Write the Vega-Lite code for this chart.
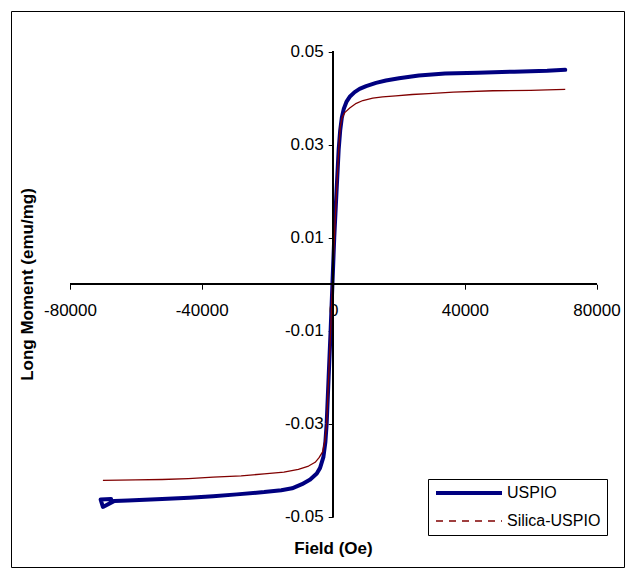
{
  "$schema": "https://vega.github.io/schema/vega-lite/v6.json",
  "width": 613,
  "height": 556,
  "autosize": {"type": "none"},
  "padding": {"left": 11, "top": 11, "right": 4, "bottom": 2},
  "background": "white",
  "config": {
    "view": {"stroke": "black", "strokeWidth": 1},
    "axis": {
      "labelFont": "Liberation Sans", "labelFontSize": 17, "labelColor": "black",
      "titleFont": "Liberation Sans", "titleFontSize": 17, "titleFontWeight": "bold", "titleColor": "black",
      "tickColor": "black", "tickSize": 5, "tickWidth": 1, "grid": false, "domain": false
    },
    "legend": {"labelFont": "Liberation Sans", "labelFontSize": 16, "labelColor": "black"}
  },
  "data": {
    "values": [
      {"series": "USPIO", "i": 0, "field": -67500, "moment": -0.0462},
      {"series": "USPIO", "i": 1, "field": -70700, "moment": -0.0463},
      {"series": "USPIO", "i": 2, "field": -70000, "moment": -0.0479},
      {"series": "USPIO", "i": 3, "field": -66500, "moment": -0.0466},
      {"series": "USPIO", "i": 4, "field": -62400, "moment": -0.0465},
      {"series": "USPIO", "i": 5, "field": -52000, "moment": -0.0462},
      {"series": "USPIO", "i": 6, "field": -43800, "moment": -0.0459},
      {"series": "USPIO", "i": 7, "field": -36500, "moment": -0.0456},
      {"series": "USPIO", "i": 8, "field": -29300, "moment": -0.0452},
      {"series": "USPIO", "i": 9, "field": -21000, "moment": -0.0447},
      {"series": "USPIO", "i": 10, "field": -15800, "moment": -0.0443},
      {"series": "USPIO", "i": 11, "field": -12500, "moment": -0.0439},
      {"series": "USPIO", "i": 12, "field": -9500, "moment": -0.0430},
      {"series": "USPIO", "i": 13, "field": -7000, "moment": -0.0420},
      {"series": "USPIO", "i": 14, "field": -5000, "moment": -0.0407},
      {"series": "USPIO", "i": 15, "field": -4000, "moment": -0.0395},
      {"series": "USPIO", "i": 16, "field": -3000, "moment": -0.0372},
      {"series": "USPIO", "i": 17, "field": -2400, "moment": -0.0340},
      {"series": "USPIO", "i": 18, "field": -2000, "moment": -0.0300},
      {"series": "USPIO", "i": 19, "field": -1400, "moment": -0.0200},
      {"series": "USPIO", "i": 20, "field": -800, "moment": -0.0100},
      {"series": "USPIO", "i": 21, "field": -250, "moment": 0.0},
      {"series": "USPIO", "i": 22, "field": 300, "moment": 0.0100},
      {"series": "USPIO", "i": 23, "field": 1000, "moment": 0.0200},
      {"series": "USPIO", "i": 24, "field": 1650, "moment": 0.0290},
      {"series": "USPIO", "i": 25, "field": 2100, "moment": 0.0330},
      {"series": "USPIO", "i": 26, "field": 2600, "moment": 0.0358},
      {"series": "USPIO", "i": 27, "field": 3200, "moment": 0.0377},
      {"series": "USPIO", "i": 28, "field": 4000, "moment": 0.0392},
      {"series": "USPIO", "i": 29, "field": 5000, "moment": 0.0403},
      {"series": "USPIO", "i": 30, "field": 6500, "moment": 0.0413},
      {"series": "USPIO", "i": 31, "field": 8000, "moment": 0.0420},
      {"series": "USPIO", "i": 32, "field": 10000, "moment": 0.0426},
      {"series": "USPIO", "i": 33, "field": 13000, "moment": 0.0433},
      {"series": "USPIO", "i": 34, "field": 16000, "moment": 0.0438},
      {"series": "USPIO", "i": 35, "field": 20000, "moment": 0.0443},
      {"series": "USPIO", "i": 36, "field": 26000, "moment": 0.0449},
      {"series": "USPIO", "i": 37, "field": 34000, "moment": 0.0453},
      {"series": "USPIO", "i": 38, "field": 44000, "moment": 0.0455},
      {"series": "USPIO", "i": 39, "field": 55000, "moment": 0.0457},
      {"series": "USPIO", "i": 40, "field": 65000, "moment": 0.0459},
      {"series": "USPIO", "i": 41, "field": 70500, "moment": 0.0461},
      {"series": "Silica-USPIO", "i": 0, "field": -70000, "moment": -0.0422},
      {"series": "Silica-USPIO", "i": 1, "field": -60000, "moment": -0.0421},
      {"series": "Silica-USPIO", "i": 2, "field": -52000, "moment": -0.0420},
      {"series": "Silica-USPIO", "i": 3, "field": -44000, "moment": -0.0418},
      {"series": "Silica-USPIO", "i": 4, "field": -36500, "moment": -0.0415},
      {"series": "Silica-USPIO", "i": 5, "field": -28000, "moment": -0.0412},
      {"series": "Silica-USPIO", "i": 6, "field": -21000, "moment": -0.0408},
      {"series": "Silica-USPIO", "i": 7, "field": -15000, "moment": -0.0404},
      {"series": "Silica-USPIO", "i": 8, "field": -10600, "moment": -0.0398},
      {"series": "Silica-USPIO", "i": 9, "field": -7500, "moment": -0.0391},
      {"series": "Silica-USPIO", "i": 10, "field": -5500, "moment": -0.0383},
      {"series": "Silica-USPIO", "i": 11, "field": -4300, "moment": -0.0373},
      {"series": "Silica-USPIO", "i": 12, "field": -3200, "moment": -0.0360},
      {"series": "Silica-USPIO", "i": 13, "field": -2500, "moment": -0.0335},
      {"series": "Silica-USPIO", "i": 14, "field": -2000, "moment": -0.0300},
      {"series": "Silica-USPIO", "i": 15, "field": -1400, "moment": -0.0200},
      {"series": "Silica-USPIO", "i": 16, "field": -800, "moment": -0.0100},
      {"series": "Silica-USPIO", "i": 17, "field": -250, "moment": 0.0},
      {"series": "Silica-USPIO", "i": 18, "field": 350, "moment": 0.0100},
      {"series": "Silica-USPIO", "i": 19, "field": 1000, "moment": 0.0200},
      {"series": "Silica-USPIO", "i": 20, "field": 1750, "moment": 0.0300},
      {"series": "Silica-USPIO", "i": 21, "field": 2150, "moment": 0.0340},
      {"series": "Silica-USPIO", "i": 22, "field": 2700, "moment": 0.0358},
      {"series": "Silica-USPIO", "i": 23, "field": 3500, "moment": 0.0369},
      {"series": "Silica-USPIO", "i": 24, "field": 5000, "moment": 0.0379},
      {"series": "Silica-USPIO", "i": 25, "field": 7000, "moment": 0.0389},
      {"series": "Silica-USPIO", "i": 26, "field": 9000, "moment": 0.0395},
      {"series": "Silica-USPIO", "i": 27, "field": 12000, "moment": 0.0400},
      {"series": "Silica-USPIO", "i": 28, "field": 15000, "moment": 0.0403},
      {"series": "Silica-USPIO", "i": 29, "field": 19000, "moment": 0.0405},
      {"series": "Silica-USPIO", "i": 30, "field": 24000, "moment": 0.0408},
      {"series": "Silica-USPIO", "i": 31, "field": 29000, "moment": 0.0410},
      {"series": "Silica-USPIO", "i": 32, "field": 36500, "moment": 0.0413},
      {"series": "Silica-USPIO", "i": 33, "field": 48500, "moment": 0.0416},
      {"series": "Silica-USPIO", "i": 34, "field": 60000, "moment": 0.0417},
      {"series": "Silica-USPIO", "i": 35, "field": 65000, "moment": 0.0418},
      {"series": "Silica-USPIO", "i": 36, "field": 70500, "moment": 0.0419}
    ]
  },
  "layer": [
    {
      "transform": [{"filter": "datum.series === 'USPIO'"}],
      "mark": {"type": "line", "strokeWidth": 4, "strokeJoin": "round", "strokeCap": "round"},
      "encoding": {
        "x": {
          "field": "field", "type": "quantitative",
          "scale": {"domain": [-97930, 88357], "nice": false, "zero": false},
          "axis": {
            "orient": "bottom", "offset": -282.8, "values": [-80000, -40000, 0, 40000, 80000],
            "labelExpr": "datum.value < 0 ? '-' + format(-datum.value, 'd') : format(datum.value, 'd')",
            "labelPadding": 13, "labelFlush": false, "labelOverlap": false,
            "title": "Field (Oe)", "titleX": 322, "titleY": 264, "titleBaseline": "middle", "titleAlign": "center"
          }
        },
        "y": {
          "field": "moment", "type": "quantitative",
          "scale": {"domain": [-0.060817, 0.058753], "nice": false, "zero": false},
          "axis": {
            "orient": "left", "offset": -322.2, "values": [-0.05, -0.03, -0.01, 0.01, 0.03, 0.05],
            "labelExpr": "datum.value < 0 ? '-' + format(-datum.value, '.2f') : format(datum.value, '.2f')",
            "labelPadding": 5, "labelFlush": false, "labelOverlap": false,
            "title": "Long Moment (emu/mg)", "titleX": -306, "titleY": 273, "titleAngle": -90,
            "titleBaseline": "middle", "titleAlign": "center"
          }
        },
        "order": {"field": "i", "type": "quantitative"},
        "color": {
          "field": "series", "type": "nominal",
          "scale": {"domain": ["USPIO", "Silica-USPIO"], "range": ["#000080", "#800000"]},
          "legend": {
            "title": null, "orient": "none", "legendX": 417, "legendY": 468,
            "symbolType": "M-3,0H30", "symbolSize": 16, "rowPadding": 12,
            "padding": 6, "labelOffset": 57, "strokeColor": "black", "fillColor": "white",
            "encode": {
              "symbols": {
                "update": {
                  "strokeWidth": {"signal": "datum.value === 'USPIO' ? 4 : 1.3"},
                  "strokeDash": {"signal": "datum.value === 'USPIO' ? [1, 0] : [7, 6]"}
                }
              }
            }
          }
        }
      }
    },
    {
      "transform": [{"filter": "datum.series === 'Silica-USPIO'"}],
      "mark": {"type": "line", "strokeWidth": 1.3, "strokeJoin": "round"},
      "encoding": {
        "x": {"field": "field", "type": "quantitative"},
        "y": {"field": "moment", "type": "quantitative"},
        "order": {"field": "i", "type": "quantitative"},
        "color": {"field": "series", "type": "nominal"}
      }
    },
    {
      "mark": {"type": "rule", "color": "black", "strokeWidth": 1},
      "encoding": {
        "x": {"datum": -80000, "type": "quantitative"},
        "x2": {"datum": 80000},
        "y": {"datum": 0, "type": "quantitative"}
      }
    },
    {
      "mark": {"type": "rule", "color": "black", "strokeWidth": 1},
      "encoding": {
        "x": {"datum": 0, "type": "quantitative"},
        "y": {"datum": -0.05, "type": "quantitative"},
        "y2": {"datum": 0.05}
      }
    }
  ]
}
